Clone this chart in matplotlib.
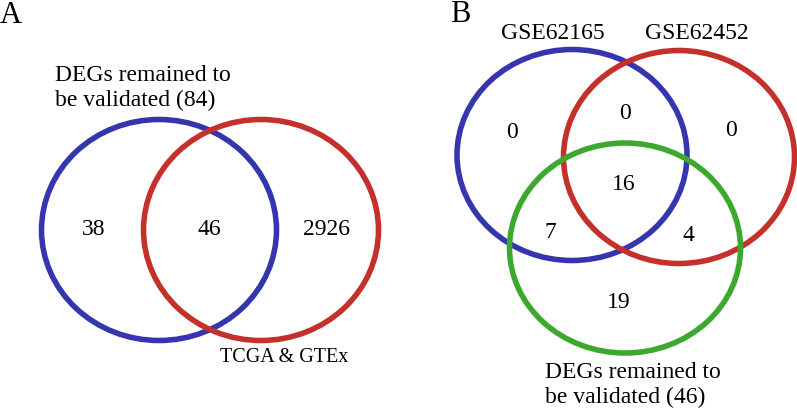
import matplotlib
matplotlib.use("Agg")
import matplotlib.pyplot as plt
from matplotlib.patches import Ellipse

plt.rcParams['font.family'] = ['Liberation Serif', 'DejaVu Serif']

# panel A: two-set venn
a_counts = ["38", "46", "2926"]
a_set_labels = ["DEGs remained to\nbe validated (84)", "TCGA & GTEx"]

# panel B: three-set venn (blue only, blue&red, red only, all, blue&green, red&green, green only)
b_counts = ["0", "0", "0", "16", "7", "4", "19"]
b_set_labels = ["GSE62165", "GSE62452", "DEGs remained to\nbe validated (46)"]

blue = "#3535ad"
red = "#c4302b"
green = "#3ca82e"

fig = plt.figure(figsize=(7.97, 4.12), dpi=100)
ax = fig.add_axes([0, 0, 1, 1])
ax.set_xlim(0, 797)
ax.set_ylim(412, 0)
ax.axis("off")

lw = 4.0
fs = 17

# ---- A ----
ax.text(0, 1, "A", fontsize=22, va="top", ha="left")
for (cx, cy), col in zip([(159, 230), (261, 230)], [blue, red]):
    ax.add_patch(Ellipse((cx, cy), 235, 221, fill=False, edgecolor=col, lw=lw))

a_pos = [(94, 229), (209, 229), (327, 229)]
for (x, y), t in zip(a_pos, a_counts):
    ax.text(x, y, t, fontsize=fs, ha="center", va="center")

ax.text(55, 88, a_set_labels[0], fontsize=fs, ha="left", va="center", linespacing=1.2)
ax.text(220, 357, a_set_labels[1], fontsize=14.5, ha="left", va="center")

# ---- B ----
ax.text(450, 0, "B", fontsize=22, va="top", ha="left")
b_circles = [((572, 155), 230, 211, blue), ((679, 157), 231, 213, red), ((625, 248), 231, 210, green)]
for (cx, cy), w, h, col in b_circles:
    ax.add_patch(Ellipse((cx, cy), w, h, fill=False, edgecolor=col, lw=lw))

b_pos = [(512, 133), (625, 113), (731, 131), (624, 184), (550, 232), (688, 235), (619, 302)]
for (x, y), t in zip(b_pos, b_counts):
    ax.text(x, y, t, fontsize=fs, ha="center", va="center")

ax.text(553, 33, b_set_labels[0], fontsize=fs, ha="center", va="center")
ax.text(697, 33, b_set_labels[1], fontsize=fs, ha="center", va="center")
ax.text(545, 385, b_set_labels[2], fontsize=fs, ha="left", va="center", linespacing=1.2)

fig.savefig("out.png", dpi=100)
